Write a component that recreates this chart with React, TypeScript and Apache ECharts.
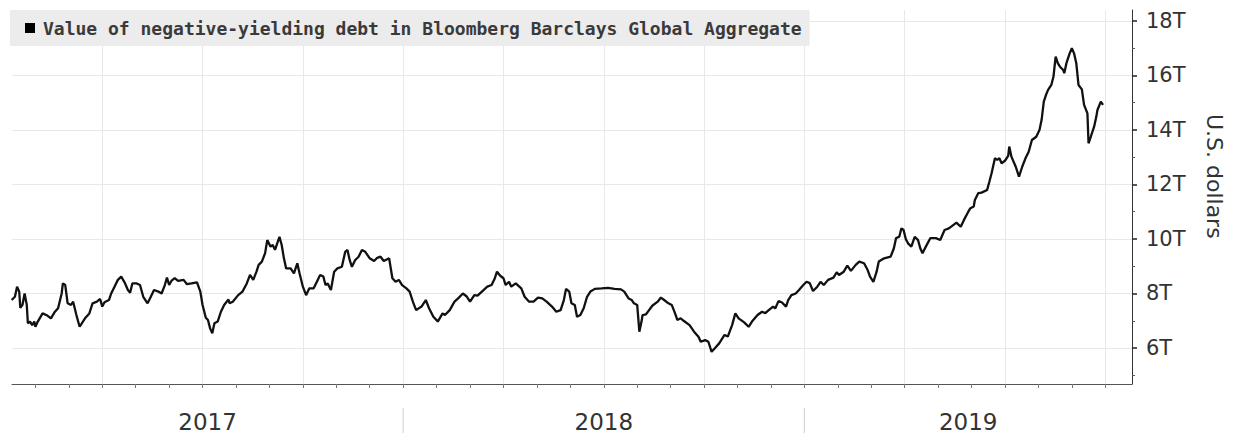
import React, { useEffect, useRef } from "react";
import * as echarts from "echarts";

// Days since 2017-01-01 and value (trillions of U.S. dollars)
const START_YEAR = 2017;
const dayOffsets = [
  9, 12, 14, 16, 17, 19, 21, 23, 24, 26, 28, 30, 31, 33, 37, 41, 44, 47, 50, 53, 54, 56, 58, 61, 63, 66, 69, 74, 78, 81,
  85, 88, 90, 92, 96, 98, 101, 104, 107, 110, 113, 115, 117, 121, 124, 127, 131, 134, 137, 141, 144, 147, 149, 151, 153,
  156, 159, 164, 167, 171, 176, 179, 181, 184, 186, 188, 190, 192, 195, 198, 201, 205, 206, 209, 214, 218, 222, 225, 228,
  231, 233, 236, 239, 241, 244, 246, 248, 250, 252, 254, 256, 258, 262, 265, 268, 270, 273, 276, 279, 283, 286, 289, 292,
  294, 296, 299, 302, 305, 309, 312, 314, 316, 318, 321, 324, 327, 330, 334, 338, 341, 344, 347, 352, 355, 358, 361, 364,
  368, 371, 374, 377, 382, 386, 389, 393, 397, 401, 403, 407, 411, 414, 418, 421, 424, 428, 431, 435, 440, 444, 447, 449,
  452, 455, 457, 460, 462, 466, 471, 474, 478, 482, 486, 490, 494, 499, 503, 507, 510, 512, 515, 517, 520, 522, 525, 528,
  531, 534, 538, 544, 550, 556, 562, 565, 569, 572, 574, 577, 579, 581, 582, 585, 588, 591, 596, 599, 602, 606, 609, 612,
  614, 617, 620, 625, 629, 633, 635, 639, 642, 645, 648, 652, 657, 660, 664, 667, 670, 675, 679, 682, 687, 691, 694, 697,
  701, 703, 706, 709, 713, 715, 718, 722, 725, 729, 732, 735, 738, 742, 745, 748, 752, 757, 760, 762, 766, 769, 772, 776,
  779, 783, 786, 788, 791, 794, 796, 801, 807, 810, 812, 815, 817, 819, 821, 823, 826, 829, 832, 834, 836, 839, 843, 848,
  852, 856, 860, 864, 867, 871, 874, 878, 880, 883, 884, 887, 890, 895, 897, 899, 902, 904, 906, 908, 911, 914, 915, 917,
  921, 924, 927, 930, 933, 936, 940, 943, 945, 947, 949, 951, 954, 956, 958, 960, 962, 965, 966, 968, 971, 973, 975, 977,
  979, 982, 984, 987, 988, 990, 993, 995, 996, 999, 1001,
];
const values = [
  7.76, 7.88, 8.25, 8.07, 7.47, 7.58, 8.0, 7.58, 6.91, 6.97, 6.84, 6.97, 6.78, 6.97, 7.27, 7.19, 7.09, 7.31, 7.46, 8.0,
  8.37, 8.31, 7.64, 7.58, 7.7, 7.21, 6.78, 7.09, 7.27, 7.64, 7.7, 7.8, 7.52, 7.68, 7.76, 8.0, 8.25, 8.5, 8.62, 8.41, 8.13,
  8.03, 8.37, 8.37, 8.31, 7.88, 7.64, 7.88, 8.13, 8.07, 8.0, 8.31, 8.58, 8.31, 8.46, 8.56, 8.46, 8.5, 8.34, 8.37, 8.41,
  8.07, 7.58, 7.11, 7.03, 6.72, 6.54, 6.91, 6.97, 7.33, 7.58, 7.78, 7.64, 7.7, 7.94, 8.07, 8.37, 8.68, 8.5, 8.8, 9.05,
  9.17, 9.48, 9.96, 9.72, 9.78, 9.6, 9.84, 10.08, 9.78, 9.29, 8.92, 8.92, 8.74, 9.11, 8.74, 8.25, 7.94, 8.19, 8.19, 8.43,
  8.68, 8.62, 8.31, 8.37, 8.13, 8.8, 8.92, 8.98, 9.53, 9.6, 9.23, 8.98, 9.23, 9.35, 9.6, 9.53, 9.29, 9.19, 9.31, 9.35,
  9.19, 9.29, 8.56, 8.43, 8.5, 8.31, 8.19, 8.07, 7.7, 7.39, 7.52, 7.76, 7.46, 7.15, 6.97, 7.27, 7.21, 7.39, 7.7, 7.82,
  8.0, 7.9, 7.7, 7.94, 7.92, 8.07, 8.25, 8.31, 8.56, 8.8, 8.65, 8.56, 8.31, 8.43, 8.25, 8.37, 8.19, 7.88, 7.7, 7.7, 7.85,
  7.82, 7.7, 7.52, 7.33, 7.39, 7.76, 8.17, 8.07, 7.64, 7.58, 7.15, 7.21, 7.46, 7.88, 8.07, 8.17, 8.19, 8.21, 8.17, 8.15,
  8.07, 7.82, 7.76, 7.64, 7.58, 6.6, 6.97, 7.21, 7.23, 7.39, 7.55, 7.7, 7.85, 7.76, 7.64, 7.58, 7.27, 7.03, 7.09, 6.99,
  6.84, 6.6, 6.41, 6.23, 6.29, 6.23, 5.86, 5.99, 6.17, 6.48, 6.42, 6.84, 7.27, 7.09, 6.94, 6.78, 6.97, 7.21, 7.33, 7.28,
  7.39, 7.52, 7.45, 7.72, 7.68, 7.52, 7.76, 7.94, 8.0, 8.13, 8.31, 8.43, 8.38, 8.09, 8.25, 8.43, 8.31, 8.5, 8.58, 8.78,
  8.68, 8.8, 9.02, 8.83, 9.05, 9.17, 9.11, 8.86, 8.62, 8.43, 8.8, 9.17, 9.29, 9.35, 9.66, 10.03, 10.08, 10.39, 10.33,
  10.0, 9.84, 9.72, 10.08, 9.96, 9.66, 9.48, 9.72, 10.03, 10.03, 9.96, 10.33, 10.39, 10.51, 10.6, 10.45, 10.7, 11.0,
  11.13, 11.19, 11.43, 11.68, 11.7, 11.8, 12.1, 12.41, 12.96, 12.9, 12.96, 12.78, 12.87, 13.05, 13.39, 13.02, 12.65,
  12.29, 12.65, 12.96, 13.2, 13.63, 13.75, 14.0, 14.37, 15.04, 15.28, 15.47, 15.65, 15.96, 16.69, 16.45, 16.32, 16.2,
  16.08, 16.45, 16.81, 17.0, 16.81, 16.45, 15.65, 15.49, 14.92, 14.61, 13.51, 13.75, 14.12, 14.49, 14.73, 15.04, 14.92,
];

const seriesName = "Value of negative-yielding debt in Bloomberg Barclays Global Aggregate";
const yearLabels = ["2017", "2018", "2019"];
const yTickValues = [6, 8, 10, 12, 14, 16, 18];
const yMinorTickValues = [5, 7, 9, 11, 13, 15, 17];
const yAxisTitle = "U.S. dollars";

// axis extents (in months since Jan 2017 / trillions)
const X_MIN = 0.3;
const X_MAX = 33.8;
const Y_MIN = 4.68;
const Y_MAX = 18.4;

function toMonth(d: number): number {
  const dt = new Date(Date.UTC(START_YEAR, 0, 1) + d * 86400000);
  const y = dt.getUTCFullYear();
  const mo = dt.getUTCMonth();
  const day = dt.getUTCDate();
  const dim = new Date(Date.UTC(y, mo + 1, 0)).getUTCDate();
  return (y - START_YEAR) * 12 + mo + (day - 1) / dim;
}

export default function App() {
  const ref = useRef<HTMLDivElement>(null);
  useEffect(() => {
    if (!ref.current) return;
    const chart = echarts.init(ref.current, null, { renderer: "svg" });
    const data = dayOffsets.map((d, i) => [toMonth(d), values[i]]);
    const monthTicks: number[] = [];
    for (let m = Math.ceil(X_MIN); m <= X_MAX; m++) monthTicks.push(m);
    const quarterTicks = monthTicks.filter((m) => m % 3 === 0);
    const yearBoundaries = monthTicks.filter((m) => m % 12 === 0);
    const yearMids = yearLabels.map((_, i) => {
      const s = Math.max(i * 12, X_MIN);
      const e = Math.min((i + 1) * 12, X_MAX);
      return (s + e) / 2;
    });
    const font = "DejaVu Sans";
    chart.setOption({
      animation: false,
      grid: { left: 12, right: 102, top: 10, bottom: 49 },
      legend: {
        left: 10,
        top: 10,
        padding: [9, 8, 9, 15],
        backgroundColor: "#ececec",
        itemWidth: 10,
        itemHeight: 10,
        icon: "rect",
        textStyle: {
          fontFamily: "DejaVu Sans Mono",
          fontSize: 18,
          fontWeight: "bold",
          color: "#3a3a3a",
          padding: [0, 0, 0, 3],
        },
        data: [{ name: seriesName, itemStyle: { color: "#000" } }],
      },
      xAxis: [
        {
          type: "value",
          min: X_MIN,
          max: X_MAX,
          axisLine: { show: true, onZero: false, lineStyle: { color: "#555", width: 1 } },
          axisTick: { show: true, customValues: monthTicks, length: 4, lineStyle: { color: "#777" } },
          axisLabel: {
            show: true,
            customValues: yearMids,
            formatter: (v: number) => yearLabels[Math.floor(v / 12)] ?? "",
            margin: 26,
            fontFamily: font,
            fontSize: 23,
            color: "#333",
          },
          splitLine: { show: false },
        },
        {
          type: "value",
          min: X_MIN,
          max: X_MAX,
          axisLine: { show: false },
          axisTick: { show: false, customValues: quarterTicks },
          axisLabel: { show: false, customValues: quarterTicks },
          splitLine: { show: true, lineStyle: { color: "#e8e8e8", width: 1 } },
        },
      ],
      yAxis: [
        {
          type: "value",
          position: "right",
          min: Y_MIN,
          max: Y_MAX,
          axisLine: { show: true, lineStyle: { color: "#333", width: 1 } },
          axisTick: { show: true, inside: false, customValues: yTickValues, length: 5, lineStyle: { color: "#222", width: 1.5 } },
          axisLabel: {
            show: true,
            customValues: yTickValues,
            formatter: (v: number) => `${v}T`,
            margin: 14,
            fontFamily: font,
            fontSize: 21,
            color: "#333",
          },
          splitLine: { show: true, lineStyle: { color: "#e8e8e8", width: 1 } },
        },
        {
          type: "value",
          position: "right",
          min: Y_MIN,
          max: Y_MAX,
          axisLine: { show: false },
          axisTick: { show: true, customValues: yMinorTickValues, length: 3, lineStyle: { color: "#555" } },
          axisLabel: { show: false, customValues: yMinorTickValues },
          splitLine: { show: false },
        },
      ],
      series: [
        {
          type: "line",
          name: seriesName,
          data,
          xAxisIndex: 0,
          yAxisIndex: 0,
          symbol: "none",
          showSymbol: false,
          lineStyle: { color: "#111", width: 2.3 },
          itemStyle: { color: "#000" },
        },
      ],
    });
    // year separators below the axis and the vertical axis title, placed from the axes' own scales
    const yMid = chart.convertToPixel({ yAxisIndex: 0 }, 12.3) as number;
    const xRight = chart.convertToPixel({ xAxisIndex: 0 }, X_MAX) as number;
    const xBottom = chart.convertToPixel({ yAxisIndex: 0 }, Y_MIN) as number;
    const separators = yearBoundaries.map((m) => {
      const px = chart.convertToPixel({ xAxisIndex: 0 }, m) as number;
      return {
        type: "line",
        shape: { x1: px, y1: xBottom + 24, x2: px, y2: xBottom + 50 },
        style: { stroke: "#cfcfcf", lineWidth: 1 },
        silent: true,
      };
    });
    chart.setOption({
      graphic: [
        ...separators,
        {
          type: "text",
          x: xRight + 82,
          y: yMid,
          rotation: -Math.PI / 2,
          style: {
            text: yAxisTitle,
            fontFamily: font,
            fontSize: 22,
            fill: "#333",
            align: "center",
            verticalAlign: "middle",
          },
        },
      ],
    });
    return () => chart.dispose();
  }, []);
  return (
    <div
      ref={ref}
      style={{ position: "fixed", left: 0, top: 0, width: 1234, height: 433, background: "#fff" }}
    />
  );
}
